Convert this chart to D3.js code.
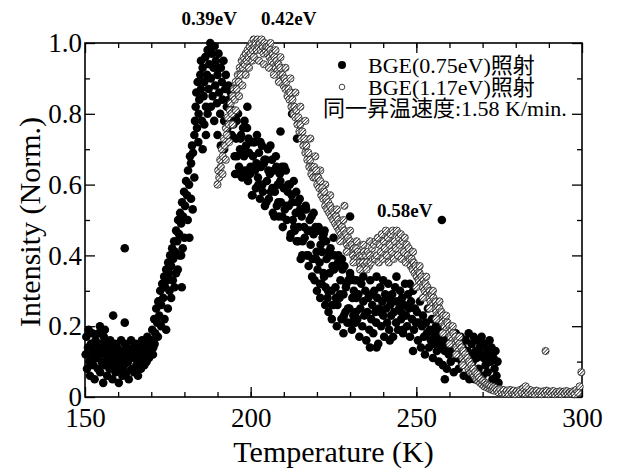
<!DOCTYPE html>
<html>
<head>
<meta charset="utf-8">
<script src="https://cdn.jsdelivr.net/npm/d3@7"></script>
<style>
  body { margin: 0; background: #fff; }
  svg text { font-family: "Liberation Serif", "Times New Roman", "Noto Sans CJK JP", serif; fill: #000; }
</style>
</head>
<body>
<svg width="617" height="473"></svg>
<script>
// BGE(0.75eV) irradiation - filled black dots [T (K), normalized intensity]
var bge075 = [
  [150.2,.12],[150.4,.17],[150.6,.08],[150.9,.14],[151.1,.19],[151.3,.10],[151.5,.06],[151.8,.15],[152.0,.12],[152.2,.18],
  [152.5,.09],[152.7,.13],[152.9,.05],[153.2,.16],[153.4,.11],[153.6,.14],[153.9,.08],[154.1,.18],[154.3,.12],[154.6,.07],
  [154.8,.15],[155.0,.10],[155.3,.13],[155.5,.04],[155.7,.17],[156.0,.09],[156.2,.12],[156.4,.15],[156.7,.06],[156.9,.11],
  [157.1,.14],[157.4,.08],[157.6,.16],[157.8,.10],[158.1,.13],[158.3,.05],[158.5,.12],[158.8,.09],[159.0,.15],[159.2,.07],
  [159.5,.11],[159.7,.14],[159.9,.10],[160.2,.04],[160.4,.13],[160.6,.08],[160.9,.16],[161.1,.11],[161.3,.06],[161.6,.13],
  [161.8,.09],[162.0,.15],[162.3,.12],[162.5,.07],[162.7,.14],[163.0,.10],[163.2,.05],[163.4,.13],[163.7,.11],[163.9,.16],
  [164.1,.08],[164.4,.12],[164.6,.14],[164.8,.07],[165.1,.11],[165.3,.15],[165.5,.09],[165.8,.12],[166.0,.06],[166.2,.14],
  [166.5,.10],[166.7,.13],[166.9,.08],[167.2,.16],[167.4,.11],[167.6,.13],[167.9,.09],[168.1,.15],[168.3,.12],[168.6,.10],
  [168.8,.17],[169.0,.13],[169.3,.11],[169.5,.16],[169.7,.14],
  [154.5,.20],[158.5,.23],[162.0,.21],[162.0,.42],[156.0,.19],
  // rise
  [170.0,.16],[170.3,.19],[170.6,.14],[170.9,.22],[171.2,.18],[171.5,.25],[171.8,.21],[172.1,.27],[172.4,.23],[172.7,.30],
  [173.0,.26],[173.3,.32],[173.6,.28],[173.9,.34],[174.2,.31],[174.5,.36],[174.8,.33],[175.1,.38],[175.4,.35],[175.7,.40],
  [176.0,.37],[176.3,.42],[176.6,.39],[176.9,.44],[177.2,.41],[177.5,.47],[177.8,.44],[178.1,.50],[178.4,.46],[178.7,.52],
  [179.0,.49],[179.3,.55],[179.6,.51],[179.9,.58],[180.2,.54],[180.5,.61],[180.8,.57],[181.1,.64],[181.4,.60],[181.7,.68],
  [182.0,.66],[182.3,.71],[182.6,.69],
  [170.5,.12],[171.0,.15],[172.0,.17],[173.0,.20],[174.0,.22],[174.5,.19],[175.0,.25],[176.0,.28],[177.0,.31],[178.0,.36],
  [179.0,.40],[180.0,.45],[179.2,.31],[175.5,.30],[176.5,.33],[177.5,.35],[178.5,.40],[179.5,.42],[181.0,.50],[181.5,.45],
  [182.0,.56],[183.0,.62],[182.5,.53],
  // peak
  [183.0,.74],[183.2,.78],[183.4,.82],[183.6,.86],[183.8,.76],[184.0,.89],[184.3,.80],[184.5,.84],[184.8,.91],[185.0,.87],
  [185.3,.78],[185.5,.93],[185.8,.85],[186.0,.89],[186.3,.96],[186.5,.82],[186.8,.91],[187.0,.98],[187.3,.87],[187.5,.94],
  [187.8,1.0],[188.0,.90],[188.3,.97],[188.5,.85],[188.8,.93],[189.0,.99],[189.3,.88],[189.5,.95],[189.8,.83],[190.0,.91],
  [190.3,.97],[190.5,.86],[190.8,.80],[191.0,.93],[191.3,.89],[191.5,.84],[191.8,.95],[192.0,.78],[192.3,.87],[192.5,.91],
  [192.8,.82],[193.0,.76],[193.3,.88],[193.5,.84],[193.8,.79],[194.0,.86],[194.3,.74],[194.5,.81],[194.8,.77],
  [184.2,.72],[185.5,.70],[186.5,.74],[189.0,.78],[190.0,.74],[191.0,.71],[192.0,.70],[187.0,.80],[188.0,.82],[186.0,.77],
  [185.0,.95],[188.5,.99],[190.5,.93],
  // decay
  [195.0,.78],[195.3,.63],[195.6,.73],[195.9,.68],[196.2,.80],[196.5,.65],[196.8,.70],[197.1,.74],[197.4,.62],[197.7,.76],
  [198.0,.68],[198.3,.64],[198.6,.71],[198.9,.76],[199.2,.61],[199.5,.69],[199.8,.63],[200.1,.72],[200.4,.57],[200.7,.68],
  [201.0,.72],[201.3,.64],[201.6,.59],[201.9,.74],[202.2,.62],[202.5,.69],[202.8,.56],[203.1,.65],[203.4,.71],[203.7,.58],
  [204.0,.66],[204.3,.54],[204.6,.67],[204.9,.61],[205.2,.70],[205.5,.56],[205.8,.63],[206.1,.58],[206.4,.67],[206.7,.52],
  [207.0,.64],[207.3,.58],[207.6,.68],[207.9,.54],[208.2,.60],[208.5,.51],[208.8,.63],[209.1,.55],[209.4,.65],[209.7,.48],
  [210.0,.59],[210.3,.53],[210.6,.64],[210.9,.50],[211.2,.58],[211.5,.54],[211.8,.60],[212.1,.46],[212.4,.57],[212.7,.50],
  [213.0,.61],[213.3,.47],[213.6,.52],[213.9,.44],[214.2,.55],[214.5,.48],[214.8,.56],
  [215.1,.39],[215.4,.51],[215.7,.44],[216.0,.53],[216.3,.45],[216.6,.54],[216.9,.40],[217.2,.47],[217.5,.37],[217.8,.50],
  [218.1,.43],[218.4,.51],[218.7,.39],[219.0,.46],[219.3,.33],[219.6,.48],[219.9,.41],
  [220.2,.36],[220.5,.48],[220.8,.38],[221.1,.43],[221.4,.32],[221.7,.45],[222.0,.35],[222.3,.47],[222.6,.31],[222.9,.39],
  [223.2,.28],[223.5,.41],[223.8,.35],[224.1,.42],[224.4,.30],[224.7,.37],
  [225.0,.26],[225.3,.40],[225.6,.31],[225.9,.37],[226.2,.26],[226.5,.40],[226.8,.28],[227.1,.33],[227.4,.22],[227.7,.36],
  [228.0,.29],[228.3,.37],[228.6,.24],[228.9,.32],[229.2,.21],[229.5,.33],[229.8,.25],[230.1,.34],[230.4,.21],[230.7,.28],
  [231.0,.23],[231.3,.33],[231.6,.21],[231.9,.28],
  [195.15,.68],[195.75,.78],[196.35,.63],[196.95,.73],[197.55,.69],[198.15,.78],[198.75,.62],[199.35,.73],[199.95,.65],[200.55,.57],
  [201.15,.72],[201.75,.66],[202.35,.60],[202.95,.72],[203.55,.60],[204.15,.67],[204.75,.55],[205.35,.64],[205.95,.71],[206.55,.59],
  [207.15,.51],[207.75,.65],[208.35,.55],[208.95,.61],[209.55,.51],[210.15,.65],[210.75,.54],[211.35,.60],[211.95,.45],[212.55,.55],
  [213.15,.48],[213.75,.58],[214.35,.44],[214.95,.53],[215.55,.40],[216.15,.48],[216.75,.53],[217.35,.40],[217.95,.47],[218.55,.34],
  [219.15,.47],[219.75,.39],[220.35,.47],[220.95,.32],[221.55,.41],[222.15,.34],[222.75,.44],[223.35,.30],[223.95,.40],[224.55,.26],
  [225.15,.36],[225.75,.28],[226.35,.38],[226.95,.29],[227.55,.39],[228.15,.23],[228.75,.31],[229.35,.25],[229.95,.33],[230.55,.19],
  [231.15,.30],[231.75,.24],
  [199.0,.82],[209.0,.75],[212.5,.80],[214.0,.73],[230.0,.51],[225.0,.45],[222.0,.46],[219.0,.52],
  [221.0,.28],[222.5,.26],[223.5,.24],[220.0,.30],[224.5,.22],
  // plateau
  [232.2,.22],[232.5,.29],[232.8,.17],[233.1,.25],[233.4,.32],[233.7,.20],[234.0,.27],[234.3,.23],[234.6,.30],[234.9,.16],
  [235.2,.24],[235.5,.28],[235.8,.19],[236.1,.33],[236.4,.22],[236.7,.26],[237.0,.18],[237.3,.30],[237.6,.24],[237.9,.21],
  [238.2,.28],[238.5,.15],[238.8,.25],[239.1,.31],[239.4,.20],[239.7,.27],[240.0,.23],[240.3,.17],[240.6,.29],[240.9,.25],
  [241.2,.21],[241.5,.32],[241.8,.19],[242.1,.26],[242.4,.23],[242.7,.29],[243.0,.17],[243.3,.24],[243.6,.31],[243.9,.21],
  [244.2,.27],[244.5,.19],[244.8,.25],[245.1,.30],[245.4,.22],[245.7,.28],[246.0,.18],[246.3,.26],[246.6,.32],[246.9,.23],
  [247.2,.20],[247.5,.29],[247.8,.25],[248.1,.17],[248.4,.27],[248.7,.22],[249.0,.30],[249.3,.19],[249.6,.25],[249.9,.21],
  [226.0,.20],[228.0,.18],[230.0,.35],[232.0,.33],[234.0,.34],[236.0,.14],[238.0,.34],[240.0,.33],[242.0,.16],[244.0,.34],
  [236.5,.29],[239.0,.24],[241.0,.28],[243.0,.27],[245.5,.24],[248.0,.32],[238.0,.14],[249.0,.13],[246.0,.19],
  // tail
  [250.2,.24],[250.5,.16],[250.8,.21],[251.1,.27],[251.4,.14],[251.7,.20],[252.0,.23],[252.3,.17],[252.6,.12],[252.9,.21],
  [253.2,.18],[253.5,.25],[253.8,.14],[254.1,.19],[254.4,.16],[254.7,.22],[255.0,.11],[255.3,.18],[255.6,.15],[255.9,.20],
  [256.2,.13],[256.5,.17],[256.8,.10],[257.1,.19],[257.4,.14],[257.7,.16],[258.0,.09],[258.3,.18],[258.6,.13],[258.9,.15],
  [259.2,.08],[259.5,.17],[259.8,.12],[260.1,.19],[260.4,.10],[260.7,.14],[261.0,.16],[261.3,.07],[261.6,.13],[261.9,.18],
  [262.2,.11],[262.5,.15],[262.8,.08],[263.1,.13],[263.4,.17],[263.7,.10],[264.0,.14],[264.3,.06],[264.6,.12],[264.9,.16],
  [265.2,.09],[265.5,.13],[265.8,.18],[266.1,.07],[266.4,.12],[266.7,.15],[267.0,.10],[267.3,.17],[267.6,.05],[267.9,.13],
  [268.2,.11],[268.5,.16],[268.8,.08],[269.1,.14],[269.4,.12],[269.7,.17],[270.0,.06],[270.3,.11],[270.6,.15],[270.9,.09],
  [271.2,.13],[271.5,.07],[271.8,.12],[272.1,.16],[272.4,.10],[272.7,.14],[273.0,.05],[273.3,.11],[273.6,.08],[273.9,.13],
  [274.2,.06],[274.5,.10],[274.8,.04],
  [257.7,.50],[258.6,.05],[266.0,.05]
];

// BGE(1.17eV) irradiation - open (hatched) circles
var bge117 = [
  [190.0,.60],[190.2,.64],[190.5,.62],[190.8,.67],[191.0,.65],[191.3,.70],[191.6,.68],[191.9,.73],[192.2,.71],[192.5,.76],
  [192.8,.74],[193.1,.79],[193.4,.77],[193.7,.81],[194.0,.83],[194.3,.80],[194.6,.85],[194.9,.87],[195.2,.84],[195.5,.89],
  [195.8,.87],[196.1,.91],[196.4,.89],[196.7,.93],[197.0,.91],[197.3,.95],[197.6,.93],[197.9,.96],[198.2,.94],[198.5,.97],
  [198.8,.95],[199.1,.98],[199.4,.96],[199.7,.99],[200.0,.97],
  [191.5,.63],[192.5,.67],[193.5,.72],[194.5,.77],[195.5,.81],[196.5,.85],[197.5,.88],[198.5,.91],[199.5,.93],[200.5,.95],
  [200.3,1.0],[200.6,.98],[200.9,1.01],[201.2,.99],[201.5,1.0],[201.8,.98],[202.1,1.01],[202.4,.99],[202.7,1.0],[203.0,.98],
  [203.3,1.01],[203.6,.99],[203.9,.97],[204.2,1.0],[204.5,.98],[204.8,.99],[205.1,.97],[205.4,.99],[205.7,.96],[206.0,.98],
  [206.3,.95],[206.6,.97],[206.9,.94],[207.2,.96],[207.5,.93],[207.8,.95],[208.1,.92],[208.4,.94],[208.7,.91],[209.0,.93],
  [209.3,.89],[209.6,.91],[209.9,.88],
  [201.0,.96],[202.5,.95],[204.0,.94],[205.5,.93],[207.0,.91],[208.5,.89],[206.0,1.0],[207.5,.98],[209.0,.96],[210.5,.93],
  [210.2,.90],[210.5,.87],[210.8,.89],[211.1,.85],[211.4,.87],[211.7,.84],[212.0,.86],[212.3,.82],[212.6,.84],[212.9,.80],
  [213.2,.82],[213.5,.79],[213.8,.81],[214.1,.77],[214.4,.79],[214.7,.75],[215.0,.77],[215.3,.73],[215.6,.75],[215.9,.71],
  [216.2,.73],[216.5,.69],[216.8,.71],[217.1,.67],[217.4,.69],[217.7,.65],[218.0,.67],[218.3,.63],[218.6,.65],[218.9,.62],
  [212.0,.90],[213.5,.86],[215.0,.82],[216.5,.78],[218.0,.73],[219.5,.68],[221.0,.64],[222.5,.60],[224.0,.57],
  [219.2,.65],[219.5,.62],[219.8,.64],[220.1,.60],[220.4,.62],[220.7,.59],[221.0,.61],[221.3,.57],[221.6,.59],[221.9,.56],
  [222.2,.58],[222.5,.54],[222.8,.56],[223.1,.53],[223.4,.55],[223.7,.52],[224.0,.54],[224.3,.51],[224.6,.53],[224.9,.50],
  [225.2,.52],[225.5,.49],[225.8,.51],[226.1,.48],[226.4,.50],[226.7,.47],[227.0,.49],[227.3,.46],[227.6,.48],[227.9,.45],
  [228.2,.47],[228.5,.44],[228.8,.46],[229.1,.43],[229.4,.45],[229.7,.42],[230.0,.44],[230.3,.41],[230.6,.43],[230.9,.40],
  [231.2,.42],[231.5,.39],[231.8,.42],[232.1,.39],[232.4,.41],[232.7,.38],[233.0,.40],[233.3,.37],[233.6,.40],[233.9,.38],
  [234.2,.41],[234.5,.37],[234.8,.40],[235.1,.38],[235.4,.41],[235.7,.37],[236.0,.40],[236.3,.38],[236.6,.42],[236.9,.39],
  [226.0,.53],[228.0,.50],[230.0,.47],[232.0,.44],[234.0,.43],[236.0,.44],[227.0,.44],[229.0,.41],[231.0,.38],[233.0,.36],
  [235.0,.36],
  [237.2,.43],[237.5,.39],[237.8,.44],[238.1,.40],[238.4,.45],[238.7,.38],[239.0,.43],[239.3,.41],[239.6,.46],[239.9,.39],
  [240.2,.44],[240.5,.42],[240.8,.47],[241.1,.40],[241.4,.45],[241.7,.38],[242.0,.43],[242.3,.46],[242.6,.41],[242.9,.47],
  [243.2,.39],[243.5,.44],[243.8,.42],[244.1,.47],[244.4,.40],[244.7,.45],[245.0,.43],[245.3,.46],[245.6,.39],[245.9,.44],
  [246.2,.41],[246.5,.45],[246.8,.38],[247.1,.43],[247.4,.40],[247.7,.42],
  [248.0,.39],[248.3,.37],[248.6,.39],[248.9,.36],[249.2,.38],[249.5,.35],[249.8,.37],[250.1,.34],[250.4,.36],[250.7,.33],
  [251.0,.35],[251.3,.32],[251.6,.34],[251.9,.31],[252.2,.33],[252.5,.30],[252.8,.32],[253.1,.29],[253.4,.31],[253.7,.28],
  [254.0,.30],[254.3,.27],[254.6,.29],[254.9,.26],[255.2,.28],[255.5,.25],[255.8,.27],[256.1,.24],[256.4,.26],[256.7,.23],
  [257.0,.25],[257.3,.22],[257.6,.24],[257.9,.21],[258.2,.23],[258.5,.20],[258.8,.22],[259.1,.19],[259.4,.21],[259.7,.18],
  [260.0,.20],[260.3,.17],[260.6,.19],[260.9,.16],[261.2,.18],[261.5,.15],[261.8,.17],[262.1,.14],[262.4,.16],[262.7,.13],
  [263.0,.15],[263.3,.12],[263.6,.14],[263.9,.11],[264.2,.13],[264.5,.10],[264.8,.12],[265.1,.09],[265.4,.11],[265.7,.08],
  [249.0,.41],[251.0,.37],[253.0,.34],[255.0,.30],[257.0,.27],[259.0,.23],[261.0,.20],[263.0,.17],
  [250.0,.31],[252.0,.28],[254.0,.25],[256.0,.22],[258.0,.18],[260.0,.15],[262.0,.12],[264.0,.09],
  [266.0,.10],[266.3,.07],[266.6,.09],[266.9,.07],[267.2,.08],[267.5,.06],[267.8,.07],[268.1,.05],[268.4,.065],[268.7,.045],
  [269.0,.055],[269.3,.04],[269.6,.05],[269.9,.035],[270.2,.045],[270.5,.03],[270.8,.04],[271.1,.028],[271.4,.035],[271.7,.025],
  [272.0,.032],[272.3,.022],[272.6,.03],[272.9,.02],[273.2,.028],[273.5,.018],[273.8,.025],
  [274.3,.02],[274.8,.013],[275.3,.022],[275.8,.012],[276.3,.02],[276.8,.01],[277.3,.018],[277.8,.01],[278.3,.02],[278.8,.012],
  [279.3,.018],[279.8,.008],[280.3,.016],[280.8,.01],[281.3,.02],[281.8,.012],[282.3,.025],[282.8,.01],[283.3,.018],[283.8,.012],
  [284.3,.02],[284.8,.01],[285.3,.016],[285.8,.008],[286.3,.018],[286.8,.01],[287.3,.015],[287.8,.008],[288.3,.016],[288.8,.01],
  [289.3,.018],[289.8,.008],[290.3,.015],[290.8,.01],[291.3,.017],[291.8,.008],[292.3,.014],[292.8,.01],[293.3,.016],[293.8,.008],
  [294.3,.015],[294.8,.01],[295.3,.017],[295.8,.009],[296.3,.014],[296.8,.01],[297.3,.016],[297.8,.008],[298.3,.02],[298.8,.012],
  [299.3,.03],
  [228.3,.54],[289.0,.13],[299.8,.07],[283.0,.03]
];

var xTicksMajor = [150, 200, 250, 300];
var yTicksMajor = [0, 0.2, 0.4, 0.6, 0.8, 1.0];
var peakLabels = [
  {text: "0.39eV", x: 187.5, y: 1.0},
  {text: "0.42eV", x: 211.5, y: 1.0},
  {text: "0.58eV", x: 246.5, y: 0.5}
];
var legendLabels = ["BGE(0.75eV)照射", "BGE(1.17eV)照射", "同一昇温速度:1.58 K/min."];

var serif = "'Liberation Serif', 'Times New Roman', serif";
var svg = d3.select("svg");
var mLeft = 85, mRight = 582, mTop = 43, mBottom = 397;

var x = d3.scaleLinear().domain([150, 300]).range([mLeft, mRight]);
var y = d3.scaleLinear().domain([0, 1]).range([mBottom, mTop]);

// hatch pattern for the open markers
var pat = svg.append("defs").append("pattern")
  .attr("id", "hatch").attr("patternUnits", "userSpaceOnUse")
  .attr("width", 2.4).attr("height", 2.4)
  .attr("patternTransform", "rotate(45)");
pat.append("rect").attr("width", 2.4).attr("height", 2.4).attr("fill", "#fff");
pat.append("line").attr("x1", 0).attr("y1", 0).attr("x2", 0).attr("y2", 2.4)
  .attr("stroke", "#111").attr("stroke-width", 1.4);

// minor ticks (inward)
svg.append("g").attr("transform", "translate(0," + mBottom + ")")
  .call(d3.axisBottom(x).tickValues(d3.range(160, 300, 10)).tickSize(-5).tickFormat(""));
svg.append("g").attr("transform", "translate(0," + mTop + ")")
  .call(d3.axisTop(x).tickValues(d3.range(160, 300, 10)).tickSize(-5).tickFormat(""));
svg.append("g").attr("transform", "translate(" + mLeft + ",0)")
  .call(d3.axisLeft(y).tickValues([0.1, 0.3, 0.5, 0.7, 0.9]).tickSize(-5).tickFormat(""));
svg.append("g").attr("transform", "translate(" + mRight + ",0)")
  .call(d3.axisRight(y).tickValues([0.1, 0.3, 0.5, 0.7, 0.9]).tickSize(-5).tickFormat(""));

// major ticks
svg.append("g").attr("class", "xaxis").attr("transform", "translate(0," + mBottom + ")")
  .call(d3.axisBottom(x).tickValues(xTicksMajor).tickSize(-10).tickPadding(11).tickFormat(d3.format("d")));
svg.append("g").attr("transform", "translate(0," + mTop + ")")
  .call(d3.axisTop(x).tickValues(xTicksMajor).tickSize(-10).tickFormat(""));
svg.append("g").attr("class", "yaxis").attr("transform", "translate(" + mLeft + ",0)")
  .call(d3.axisLeft(y).tickValues(yTicksMajor).tickSize(-10).tickPadding(3)
    .tickFormat(function(d) { return d === 0 ? "0" : d.toFixed(1); }));
svg.append("g").attr("transform", "translate(" + mRight + ",0)")
  .call(d3.axisRight(y).tickValues(yTicksMajor).tickSize(-10).tickFormat(""));

svg.selectAll(".domain").remove();
svg.selectAll(".tick line").attr("stroke", "#000").attr("stroke-width", 1.3);
svg.selectAll(".xaxis, .yaxis").attr("font-family", serif).attr("font-size", 27);
svg.selectAll(".xaxis text, .yaxis text")
  .style("font-family", serif).style("font-size", "27px").attr("fill", "#000");

// frame
svg.append("rect").attr("x", mLeft).attr("y", mTop)
  .attr("width", mRight - mLeft).attr("height", mBottom - mTop)
  .attr("fill", "none").attr("stroke", "#000").attr("stroke-width", 1.6);

// black dots
svg.append("g").selectAll("circle")
  .data(bge075).enter().append("circle")
  .attr("cx", function(d) { return x(d[0]); })
  .attr("cy", function(d) { return y(d[1]); })
  .attr("r", 4.3)
  .attr("fill", "#000");

// open hatched circles
svg.append("g").selectAll("circle")
  .data(bge117).enter().append("circle")
  .attr("cx", function(d) { return x(d[0]); })
  .attr("cy", function(d) { return y(d[1]); })
  .attr("r", 3.6)
  .attr("fill", "url(#hatch)")
  .attr("stroke", "#222")
  .attr("stroke-width", 0.8);

// peak labels
svg.selectAll(".peak").data(peakLabels).enter().append("text")
  .attr("class", "peak")
  .attr("x", function(d) { return x(d.x); })
  .attr("y", function(d, i) { return i < 2 ? 25 : y(d.y) - 3; })
  .attr("text-anchor", "middle")
  .style("font-family", serif)
  .style("font-size", "19px").style("font-weight", "bold")
  .text(function(d) { return d.text; });

// legend
svg.append("circle").attr("cx", 342).attr("cy", 65).attr("r", 4).attr("fill", "#000");
svg.append("circle").attr("cx", 342).attr("cy", 87).attr("r", 2.8)
  .attr("fill", "#fff").attr("stroke", "#444").attr("stroke-width", 1);
svg.append("text").attr("x", 368).attr("y", 73).style("font-size", "22px").text(legendLabels[0]);
svg.append("text").attr("x", 368).attr("y", 95).style("font-size", "22px").text(legendLabels[1]);
svg.append("text").attr("x", 323).attr("y", 116).style("font-size", "22px").text(legendLabels[2]);

// axis titles
svg.append("text").attr("x", (mLeft + mRight) / 2).attr("y", 462)
  .attr("text-anchor", "middle").style("font-family", serif).style("font-size", "30px").text("Temperature (K)");
svg.append("text").attr("transform", "translate(40," + 222 + ") rotate(-90)")
  .attr("text-anchor", "middle").style("font-family", serif).style("font-size", "30px").text("Intensity (Norm.)");
</script>
</body>
</html>
